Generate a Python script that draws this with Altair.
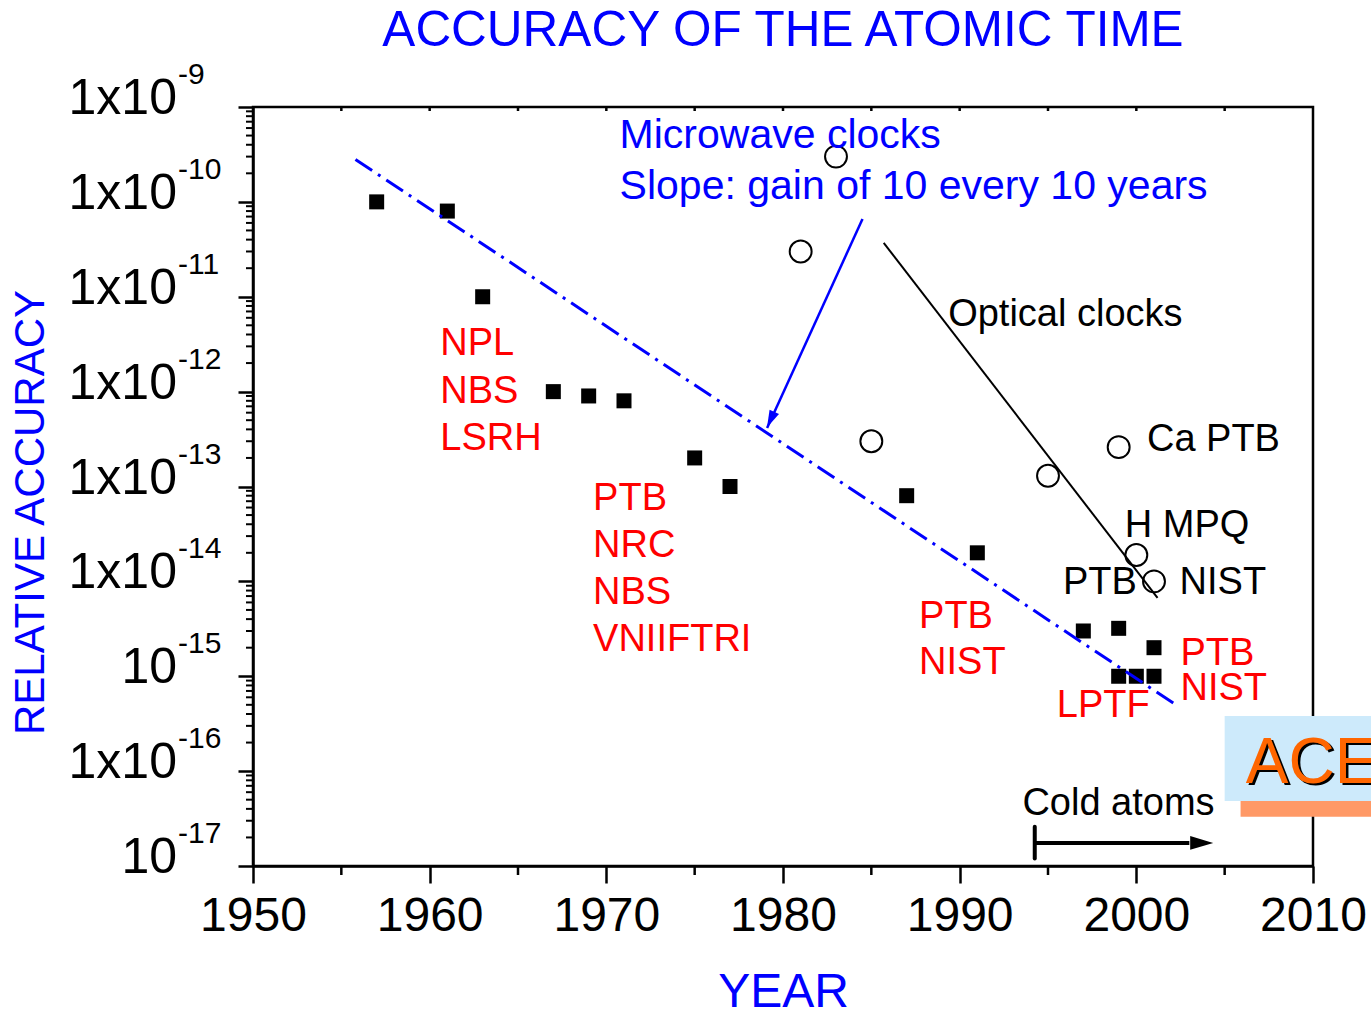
import altair as alt
import pandas as pd

FONT = "Liberation Sans"
BLUE = "#0000ff"
RED = "#ff0000"
BLACK = "#000000"

TITLE = "ACCURACY OF THE ATOMIC TIME"

# ---- measurements ----------------------------------------------------------
# microwave / primary frequency standards (filled squares)
std_year = [1957, 1961, 1963, 1967, 1969, 1971, 1975, 1977, 1987, 1991,
            1997, 1999, 2001, 1999, 2000, 2001]
std_acc = [1e-10, 8e-11, 1e-11, 1e-12, 9e-13, 8e-13, 2e-13, 1e-13, 8e-14, 2e-14,
           3e-15, 3.2e-15, 2e-15, 1e-15, 1e-15, 1e-15]

# optical clocks (open circles)
opt_year = [1983, 1981, 1985, 1995, 1999, 2000, 2001]
opt_acc = [3e-10, 3e-11, 3e-13, 1.3e-13, 2.6e-13, 1.9e-14, 1e-14]

# trend lines
mw_trend_year = [1955.8, 2002.1]
mw_trend_acc = [2.8e-10, 5.2e-16]
opt_trend_year = [1985.7, 2001.2]
opt_trend_acc = [3.7e-11, 6.7e-15]

# ---- annotations -----------------------------------------------------------
red_text = ["NPL", "NBS", "LSRH", "PTB", "NRC", "NBS", "VNIIFTRI",
            "PTB", "NIST", "LPTF", "PTB", "NIST"]
red_year = [1960.6, 1960.6, 1960.6, 1969.25, 1969.25, 1969.25, 1969.25,
            1987.7, 1987.7, 1995.5, 2002.5, 2002.5]
red_acc = [3.2e-12, 1.0e-12, 3.2e-13, 7.4e-14, 2.35e-14, 7.5e-15, 2.4e-15,
           4.2e-15, 1.38e-15, 4.85e-16, 1.72e-15, 7.35e-16]

black_text = ["Optical clocks", "Ca PTB", "H MPQ", "PTB", "NIST", "Cold atoms"]
black_year = [1989.35, 2000.6, 1999.35, 1995.85, 2002.45, 1993.55]
black_acc = [6.4e-12, 3.1e-13, 3.85e-14, 9.6e-15, 9.6e-15, 4.5e-17]

blue_text = ["Microwave clocks", "Slope: gain of 10 every 10 years"]
blue_year = [1970.75, 1970.75]
blue_acc = [5.0e-10, 1.45e-10]

# arrow pointing from the slope note to the trend line
mw_arrow_year = [1984.5, 1979.1]
mw_arrow_acc = [6.6e-11, 4.14e-13]
mw_head_year = [1979.3]
mw_head_acc = [5.05e-13]

# "Cold atoms" era arrow
cold_start = [1994.25]
cold_end = [2003.0]
cold_level = [1.75e-17]
cold_bar_top = [2.6e-17]
cold_bar_bottom = [1.2e-17]
cold_head_year = [2003.7]

# ACES badge
aces_box_x = [2005.0, 2014.0]
aces_box_y = [3.8e-16, 4.85e-17]
aces_bar_x = [2005.9, 2014.0]
aces_bar_y = [4.85e-17, 3.3e-17]
aces_label = ["ACES"]
aces_label_year = [2006.2]
aces_label_acc = [7.5e-17]

# ---- axis ticks and labels ---------------------------------------------------
year_ticks = [1950, 1960, 1970, 1980, 1990, 2000, 2010]
year_minor = [1955, 1965, 1975, 1985, 1995, 2005]
year_top = [1955, 1960, 1965, 1970, 1975, 1980, 1985, 1990, 1995, 2000, 2005]
decades = [1e-9, 1e-10, 1e-11, 1e-12, 1e-13, 1e-14, 1e-15, 1e-16, 1e-17]
dec_base = ["1x10", "1x10", "1x10", "1x10", "1x10", "1x10", "10", "1x10", "10"]
dec_exp = ["-9", "-10", "-11", "-12", "-13", "-14", "-15", "-16", "-17"]
minor_acc = [k * 10.0 ** e for e in range(-17, -9) for k in range(2, 10)]

x_scale = alt.Scale(domain=[1950, 2010], nice=False, zero=False)
y_scale = alt.Scale(type="log", domain=[1e-17, 1e-9], nice=False)

x_axis = alt.Axis(
    values=year_ticks, format="d", tickSize=17, tickWidth=2.5, tickColor=BLACK,
    domainColor=BLACK, domainWidth=2.5, grid=False,
    labelFont=FONT, labelFontSize=48, labelColor=BLACK, labelPadding=47,
    labelBaseline="alphabetic", labelFlush=False, labelOverlap=False,
    title="YEAR", titleFont=FONT, titleFontSize=48, titleFontWeight="normal",
    titleColor=BLUE, titleX=530, titleY=140, titleAlign="center",
    titleBaseline="alphabetic",
)
y_axis = alt.Axis(
    values=decades, labels=False, tickSize=15, tickWidth=2.5, tickColor=BLACK,
    domainColor=BLACK, domainWidth=2.5, grid=False,
    title="RELATIVE ACCURACY", titleFont=FONT, titleFontSize=42,
    titleFontWeight="normal", titleColor=BLUE, titleX=-223, titleY=405,
    titleAngle=270, titleAlign="center", titleBaseline="middle",
)


def xq(field):
    return alt.X(field, type="quantitative", scale=x_scale, axis=x_axis)


def yq(field):
    return alt.Y(field, type="quantitative", scale=y_scale, axis=y_axis)


std_df = pd.DataFrame({"year": std_year, "acc": std_acc})
opt_df = pd.DataFrame({"year": opt_year, "acc": opt_acc})

squares = alt.Chart(std_df).mark_point(
    shape="square", filled=True, color=BLACK, size=225, opacity=1
).encode(x=xq("year"), y=yq("acc"))

circles = alt.Chart(opt_df).mark_point(
    shape="circle", filled=False, color=BLACK, size=480, strokeWidth=2, opacity=1
).encode(x=xq("year"), y=yq("acc"))

mw_trend = alt.Chart(pd.DataFrame({"year": mw_trend_year, "acc": mw_trend_acc})).mark_line(
    color=BLUE, strokeWidth=3, strokeDash=[20, 7, 3, 7]
).encode(x=xq("year"), y=yq("acc"))

opt_trend = alt.Chart(pd.DataFrame({"year": opt_trend_year, "acc": opt_trend_acc})).mark_line(
    color=BLACK, strokeWidth=2
).encode(x=xq("year"), y=yq("acc"))

# minor ticks
y_minor = alt.Chart(pd.DataFrame({"acc": minor_acc})).mark_rule(
    color=BLACK, strokeWidth=2
).encode(y=yq("acc"), x=alt.value(-7), x2=alt.value(0))

x_minor = alt.Chart(pd.DataFrame({"year": year_minor})).mark_rule(
    color=BLACK, strokeWidth=2.5
).encode(x=xq("year"), y=alt.value(759), y2=alt.value(768))

x_top = alt.Chart(pd.DataFrame({"year": year_top})).mark_rule(
    color=BLACK, strokeWidth=2.5
).encode(x=xq("year"), y=alt.value(0), y2=alt.value(4))

# decade labels written as 1x10 with a raised exponent
dec_df = pd.DataFrame({"acc": decades, "base": dec_base, "exp": dec_exp})
dec_base_txt = alt.Chart(dec_df).mark_text(
    align="right", baseline="alphabetic", dy=7, font=FONT, fontSize=50, color=BLACK
).encode(y=yq("acc"), x=alt.value(-76), text="base:N")
dec_exp_txt = alt.Chart(dec_df).mark_text(
    align="left", baseline="alphabetic", dy=-23, font=FONT, fontSize=30, color=BLACK
).encode(y=yq("acc"), x=alt.value(-75), text="exp:N")

# chart heading, centred over the plot
heading = alt.Chart(pd.DataFrame({"t": [TITLE]})).mark_text(
    align="center", baseline="alphabetic", font=FONT, fontSize=49.5, color=BLUE
).encode(x=alt.value(530), y=alt.value(-61), text="t:N")


def labels(texts, years, accs, color, size):
    df = pd.DataFrame({"t": texts, "year": years, "acc": accs})
    return alt.Chart(df).mark_text(
        align="left", baseline="middle", font=FONT, fontSize=size, color=color
    ).encode(x=xq("year"), y=yq("acc"), text="t:N")


red_lbl = labels(red_text, red_year, red_acc, RED, 38)
black_lbl = labels(black_text, black_year, black_acc, BLACK, 38)
blue_lbl = labels(blue_text, blue_year, blue_acc, BLUE, 41)

ARROW = "M -1 -0.6 L 1 0 L -1 0.6 Z"

mw_arrow = alt.Chart(pd.DataFrame({
    "x1": [mw_arrow_year[0]], "x2": [mw_arrow_year[1]],
    "y1": [mw_arrow_acc[0]], "y2": [mw_arrow_acc[1]],
})).mark_rule(color=BLUE, strokeWidth=2.5).encode(
    x=xq("x1"), x2="x2:Q", y=yq("y1"), y2="y2:Q"
)
mw_head = alt.Chart(pd.DataFrame({"year": mw_head_year, "acc": mw_head_acc})).mark_point(
    shape=ARROW, filled=True, color=BLUE, size=300, angle=115, opacity=1
).encode(x=xq("year"), y=yq("acc"))

cold_df = pd.DataFrame({
    "x1": cold_start, "x2": cold_end, "lvl": cold_level,
    "top": cold_bar_top, "bot": cold_bar_bottom, "hx": cold_head_year,
})
cold_line = alt.Chart(cold_df).mark_rule(color=BLACK, strokeWidth=4).encode(
    x=xq("x1"), x2="x2:Q", y=yq("lvl")
)
cold_bar = alt.Chart(cold_df).mark_rule(color=BLACK, strokeWidth=4, strokeCap="round").encode(
    x=xq("x1"), y=yq("top"), y2="bot:Q"
)
cold_head = alt.Chart(cold_df).mark_point(
    shape=ARROW, filled=True, color=BLACK, size=529, opacity=1
).encode(x=xq("hx"), y=yq("lvl"))

aces_box = alt.Chart(pd.DataFrame({
    "x1": [aces_box_x[0]], "x2": [aces_box_x[1]],
    "y1": [aces_box_y[0]], "y2": [aces_box_y[1]],
})).mark_rect(color="#cdeafb").encode(x=xq("x1"), x2="x2:Q", y=yq("y1"), y2="y2:Q")
aces_bar = alt.Chart(pd.DataFrame({
    "x1": [aces_bar_x[0]], "x2": [aces_bar_x[1]],
    "y1": [aces_bar_y[0]], "y2": [aces_bar_y[1]],
})).mark_rect(color="#ff9966").encode(x=xq("x1"), x2="x2:Q", y=yq("y1"), y2="y2:Q")
aces_df = pd.DataFrame({"t": aces_label, "year": aces_label_year, "acc": aces_label_acc})
aces_shadow = alt.Chart(aces_df).mark_text(
    align="left", baseline="alphabetic", font=FONT, fontSize=64, color=BLACK, dx=2.5, dy=2.5
).encode(x=xq("year"), y=yq("acc"), text="t:N")
aces_txt = alt.Chart(aces_df).mark_text(
    align="left", baseline="alphabetic", font=FONT, fontSize=64, color="#ff6600"
).encode(x=xq("year"), y=yq("acc"), text="t:N")

chart = alt.layer(
    squares, y_minor, x_minor, x_top, dec_base_txt, dec_exp_txt, heading,
    mw_trend, opt_trend, circles,
    red_lbl, black_lbl, blue_lbl,
    mw_arrow, mw_head, cold_line, cold_bar, cold_head,
    aces_box, aces_bar, aces_shadow, aces_txt,
).properties(
    width=1060,
    height=759,
    autosize=alt.AutoSizeParams(type="none"),
    padding={"left": 253, "top": 107, "right": 58, "bottom": 144},
).configure_view(stroke=BLACK, strokeWidth=2.5)

chart.save("out.html", embed_options={"renderer": "svg", "actions": False})
